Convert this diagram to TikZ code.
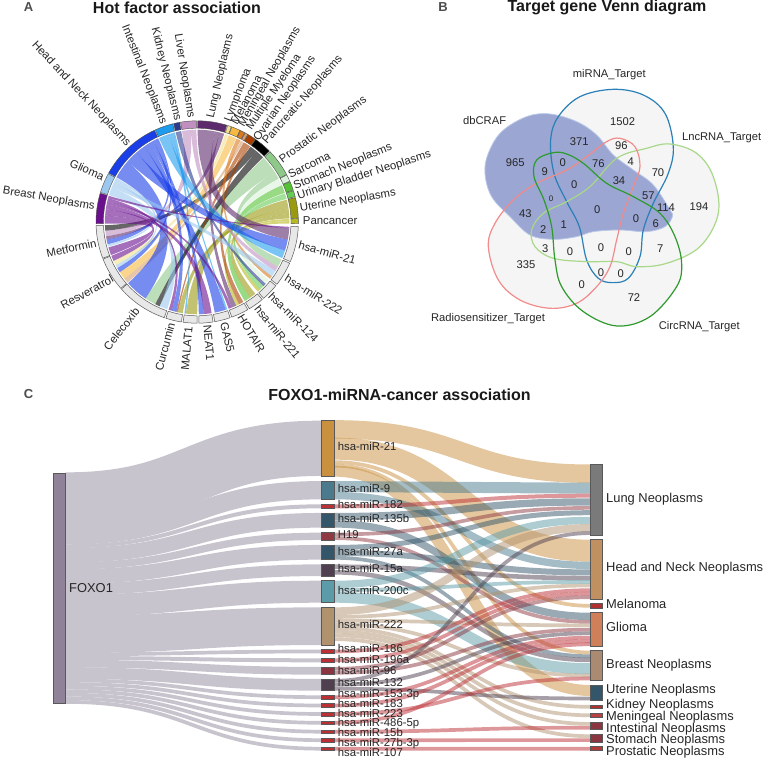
\documentclass[tikz,border=0pt]{standalone}
\usepackage{fontspec}
\setmainfont{Liberation Sans}
\usetikzlibrary{calc}
\usetikzlibrary{backgrounds}

\definecolor{brst}{HTML}{6A0F8E}
\definecolor{gli}{HTML}{9CC8EE}
\definecolor{hnn}{HTML}{1A3FE8}
\definecolor{inte}{HTML}{1F9BEE}
\definecolor{kid}{HTML}{2B3A8F}
\definecolor{liv}{HTML}{C08FC0}
\definecolor{lun}{HTML}{5E2A6E}
\definecolor{lym}{HTML}{F0E090}
\definecolor{mel}{HTML}{F5B942}
\definecolor{men}{HTML}{D97A1E}
\definecolor{mye}{HTML}{D9A070}
\definecolor{ova}{HTML}{A83F00}
\definecolor{pan}{HTML}{000000}
\definecolor{pro}{HTML}{8FC98A}
\definecolor{sar}{HTML}{D9F2D9}
\definecolor{sto}{HTML}{55C233}
\definecolor{uri}{HTML}{66CC55}
\definecolor{ute}{HTML}{9A9A10}
\definecolor{pcc}{HTML}{B8B820}
\definecolor{col_miR_21}{HTML}{C99040}
\definecolor{col_miR_9}{HTML}{4A7A8C}
\definecolor{col_miR_182}{HTML}{BC2F35}
\definecolor{col_miR_135b}{HTML}{34566A}
\definecolor{col_H19}{HTML}{8F3A42}
\definecolor{col_miR_27a}{HTML}{34566A}
\definecolor{col_miR_15a}{HTML}{50404F}
\definecolor{col_miR_200c}{HTML}{5B9CA8}
\definecolor{col_miR_222}{HTML}{B0926F}
\definecolor{col_miR_186}{HTML}{BC2F35}
\definecolor{col_miR_196a}{HTML}{BC2F35}
\definecolor{col_miR_96}{HTML}{8A3540}
\definecolor{col_miR_132}{HTML}{50404F}
\definecolor{col_miR_153}{HTML}{BC2F35}
\definecolor{col_miR_183}{HTML}{BC2F35}
\definecolor{col_miR_223}{HTML}{BC2F35}
\definecolor{col_miR_486}{HTML}{BC2F35}
\definecolor{col_miR_15b}{HTML}{BC2F35}
\definecolor{col_miR_27b}{HTML}{BC2F35}
\definecolor{col_miR_107}{HTML}{BC2F35}
\definecolor{vennblob}{RGB}{155,166,210}
\definecolor{vennblobedge}{RGB}{184,200,232}
\definecolor{vennblue}{RGB}{42,127,184}
\definecolor{vennlime}{RGB}{168,216,136}
\definecolor{vennrose}{RGB}{240,140,140}
\definecolor{venngreen}{RGB}{46,154,46}
\definecolor{foxolink}{RGB}{200,196,206}
\definecolor{foxonode}{RGB}{143,130,153}

\tikzset{
  paneltag/.style={font=\fontsize{13}{13}\selectfont\bfseries, text=black!70, inner sep=0},
  paneltitle/.style={font=\fontsize{16}{16}\selectfont\bfseries, text=black!90, inner sep=0},
  ringlab/.style={font=\fontsize{11.4}{11.4}\selectfont, text=black!85, inner sep=0},
  vennlab/.style={font=\fontsize{11.2}{11.2}\selectfont, text=black!85, inner sep=0},
  vennline/.style={line width=1.2pt},
  midnode/.style={draw=black!65, line width=.5pt, minimum width=12.3, inner sep=0, outer sep=0},
  dis/.style={font=\fontsize{12.9}{12.9}\selectfont, text=black!85, inner sep=0, anchor=mid west, yshift=-1.5pt},
  mirlab/.style={font=\fontsize{11.35}{11.35}\selectfont, text=black!85, inner sep=0, anchor=mid west, yshift=-1.2pt},
  link/.style={line cap=butt, draw opacity=.5},
}

\begin{document}
\begin{tikzpicture}[x=1pt, y=-1pt]
  \useasboundingbox (0,0) rectangle (764,759);

  \node[paneltag] (tag_A) at (28.5,7.5) {A};
  \node[paneltitle] (title_A) at (177,7.5) {Hot factor association};
  \node[paneltag] (tag_B) at (443,7.5) {B};
  \node[paneltitle] (title_B) at (607,7.5) {Target gene Venn diagram};
  \node[paneltag] (tag_C) at (28.5,394.5) {C};
  \node[paneltitle] (title_C) at (399.5,394.5) {FOXO1-miRNA-cancer association};

  % chord diagram
  \begin{scope}[shift={(197.2,222)}]
    \foreach \a/\b/\c/\d/\col in {
      50/54.7/182/185.5/pan, 94/99.5/185.5/189/liv, 73/76/189/191/lun, 116/118.5/191/194/hnn,
      151.5/153/194/195.5/gli, 176/181/196/201/brst, 172/176/201.5/205/brst, 70.3/72.5/205/208/lym,
      153/155/208/210/gli, 115/116/210/213/hnn, 65/70/213/218/mel, 60/61.7/218/221/mye,
      139/151/221.5/236/hnn, 33/44/236/243/pro, 44.5/50/243/246/pan, 158/163/246/251/gli,
      165/167/252/254/brst, 121/125/254/257/hnn, 57/59.7/257/258/ova, 5/8/258/261/ute,
      104/106/262/263/inte, 8/14/263/270/ute, 118.5/121/271/274/hnn, 169/172/274/279/brst,
      125/131/281/288/hnn, 106/108/288/289/inte, 167/169/290/292/brst, 76/79/292/295/lun,
      -1/0.5/295/297/pcc, 55/57/297/300/ova, 18.4/23.5/301/305/sto, 2.2/5/305/309/ute,
      0.5/1.9/311/313/pcc, 14.5/18/313/316/uri, 100/103.5/316/318/kid, 23.8/27.7/318/321/sar,
      62/64.7/322/324/men, 155/158/324/328/gli, 90.5/94/328/331/liv, 28/33/331/336/pro,
      108/114.5/337/342/inte, 131/139/342/349/hnn, 79/89.7/349/356/lun, 163.5/165/356/357/brst}
    {
      \fill[\col, fill opacity=.6] (\a:92.3pt) arc[start angle=\a, end angle=\b, radius=92.3pt]
        .. controls (\b:30pt) and (\c:30pt) .. (\c:92.3pt)
        arc[start angle=\c, end angle=\d, radius=92.3pt]
        .. controls (\d:30pt) and (\a:30pt) .. cycle;
    }
    \foreach \a/\b/\col in {
      163.5/181/brst, 151.5/163/gli, 115/151/hnn, 104/114.5/inte, 100/103.5/kid, 90.5/99.5/liv,
      73/89.7/lun, 70.3/72.5/lym, 65/70/mel, 62/64.7/men, 60/61.7/mye, 55/59.7/ova, 44.5/54.7/pan,
      28/44/pro, 23.8/27.7/sar, 18.4/23.5/sto, 14.5/18/uri, 2.2/14/ute, -1/1.9/pcc}
    {
      \draw[black!70, line width=.4pt, fill=\col] (\a:93.8pt) arc[start angle=\a, end angle=\b, radius=93.8pt]
        -- (\b:101.2pt) arc[start angle=\b, end angle=\a, radius=101.2pt] -- cycle;
    }
    \foreach \a/\b in {
      182/201, 201.5/221, 221.5/251, 252/261, 262/270, 271/279, 280/289, 290/300, 301/310,
      311/321, 322/336, 337/357.4}
    {
      \draw[black!65, line width=.5pt, fill=black!9] (\a:93.8pt) arc[start angle=\a, end angle=\b, radius=93.8pt]
        -- (\b:101.2pt) arc[start angle=\b, end angle=\a, radius=101.2pt] -- cycle;
    }
  \end{scope}

  \foreach \lab/\px/\py/\rot in {
    Lung Neoplasms/211/118.3/77, Lymphoma/228.3/121.7/69, Melanoma/235/124/62,
    Meningeal Neoplasms/241.7/126/60, Multiple Myeloma/249.3/129.3/56,
    Ovarian Neoplasms/256.7/140/55.5, Pancreatic Neoplasms/265/143.3/48.5,
    Prostatic Neoplasms/281/161/36, Sarcoma/289.3/176.7/27, Stomach Neoplasms/294.3/187.3/22.5,
    Urinary Bladder Neoplasms/297.7/196.7/17.5, Uterine Neoplasms/300/209.3/9.7,
    Pancancer/302.7/221.7/0, hsa-miR-21/298.3/246/-15.7, hsa-miR-222/285/278.3/-32,
    hsa-miR-124/269.3/295/-45, hsa-miR-221/255.7/307.3/-51, HOTAIR/239.3/316/-59,
    GAS5/222.7/322.7/-77, NEAT1/206/325/-85}
    \node[ringlab, anchor=mid west, rotate=\rot] at (\px,\py) {\lab};
  \foreach \lab/\px/\py/\rot in {
    Head and Neck Neoplasms/128.3/145/-47, Intestinal Neoplasms/163.3/124/-68.5,
    Kidney Neoplasms/177.3/120.7/-76, Liver Neoplasms/190.7/118.3/-81, Glioma/103.3/178.3/-23,
    Breast Neoplasms/94.7/207.3/-10, Metformin/96.7/244.3/12, Resveratrol/113.3/279.3/29,
    Celecoxib/138.3/310/51.6, Curcumin/172.7/323.3/75, MALAT1/190/326.7/85}
    \node[ringlab, anchor=mid east, rotate=\rot] at (\px,\py) {\lab};

  % venn
  \begin{scope}[xshift=420pt, x=.3333pt, y=-.3333pt]
    \def\dbCRAF{(195,520) (205,460) (245,395) (320,350) (390,342) (470,365) (530,405) (580,465) (640,510) (700,555) (750,630) (757,650) (735,680) (680,695) (600,690) (520,695) (470,710) (400,718) (330,705) (270,650) (215,590)}
    \def\miRNA{(580,268) (480,290) (415,350) (392,420) (402,520) (440,605) (478,680) (500,780) (535,835) (578,848) (625,835) (660,770) (670,690) (700,610) (745,520) (760,440) (735,340) (670,285)}
    \def\LncRNA{(750,432) (680,445) (590,475) (510,560) (440,605) (370,640) (335,690) (345,740) (400,775) (500,785) (590,785) (650,800) (740,790) (840,740) (895,640) (880,530) (830,460)}
    \def\Radio{(205,740) (225,670) (280,600) (350,550) (440,510) (500,470) (560,425) (600,415) (645,440) (660,500) (640,560) (610,640) (590,720) (570,800) (530,860) (470,910) (390,925) (300,900) (235,840)}
    \def\CircRNA{(400,458) (350,480) (342,530) (372,600) (395,680) (405,780) (425,860) (490,935) (590,978) (690,950) (770,860) (785,790) (765,710) (720,640) (640,590) (560,550) (490,490) (440,462)}
    \foreach \shp in {\miRNA,\LncRNA,\Radio,\CircRNA}
      \fill[black!4] plot[smooth cycle, tension=.6] coordinates {\shp};
    \draw[fill=vennblob, draw=vennblobedge, line width=.8pt]
      plot[smooth cycle, tension=.6] coordinates {\dbCRAF};
    \draw[vennline, vennblue] plot[smooth cycle, tension=.6] coordinates {\miRNA};
    \draw[vennline, vennlime] plot[smooth cycle, tension=.6] coordinates {\LncRNA};
    \draw[vennline, vennrose] plot[smooth cycle, tension=.6] coordinates {\Radio};
    \draw[vennline, venngreen] plot[smooth cycle, tension=.6] coordinates {\CircRNA};
    \foreach \num/\px/\py in {
      1502/608/366, 371/478/426, 96/604/438, 4/632/485, 70/714/517, 965/286/489, 9/374/515,
      0/428/489, 76/535/490, 34/597/543, 0/463/553, 57/685/586, 194/837/620, 114/738/623,
      43/316/640, 0/532/628, 0/648/657, 6/707/672, 1/431/673, 2/370/690, 3/376/746, 0/450/755,
      0/543/743, 0/626/754, 7/721/745, 335/318/794, 0/543/817, 0/602/821, 0/485/855, 72/642/892}
      \node[vennlab] at (\px,\py) {\num};
    \node[vennlab, font=\fontsize{8}{8}\selectfont] (small_zero) at (393,597) {0};
    \node[vennlab] (miRNA_lab) at (568,224) {miRNA\_Target};
    \node[vennlab] (dbCRAF_lab) at (194,361) {dbCRAF};
    \node[vennlab] (LncRNA_lab) at (905,414) {LncRNA\_Target};
    \node[vennlab] (Radio_lab) at (204,955) {Radiosensitizer\_Target};
    \node[vennlab] (CircRNA_lab) at (838,980) {CircRNA\_Target};
  \end{scope}

  % sankey nodes
  \node[midnode, minimum height=230.4, fill=foxonode] (FOXO1) at (59.35,588.5) {};
  \node[dis] (FOXO1_lab) at (69,588) {FOXO1};
  \foreach \nm/\yc/\h/\laby/\lab in {
    miR_21/448.3/55.3/447/hsa-miR-21, miR_9/490.2/18.3/489/hsa-miR-9, miR_182/506.3/4/505/hsa-miR-182,
    miR_135b/520.3/14.7/519/hsa-miR-135b, H19/536.3/7.3/535/H19, miR_27a/552.3/14.7/551.3/hsa-miR-27a,
    miR_15a/570.2/11.7/569/hsa-miR-15a, miR_200c/591.7/22/590.3/hsa-miR-200c,
    miR_222/626.2/37.7/625/hsa-miR-222, miR_186/651.5/3.7/649/hsa-miR-186,
    miR_196a/660.3/4/660/hsa-miR-196a, miR_96/670.8/7.7/670.3/hsa-miR-96,
    miR_132/684.8/11.7/682.3/hsa-miR-132, miR_153/697.2/3.7/693.3/hsa-miR-153-3p,
    miR_183/705.5/3.7/703.3/hsa-miR-183, miR_223/714/3.7/713.3/hsa-miR-223,
    miR_486/722.8/3.7/722.7/hsa-miR-486-5p, miR_15b/731.7/3.7/732.7/hsa-miR-15b,
    miR_27b/740.2/3.7/742.7/hsa-miR-27b-3p, miR_107/748.7/3.7/752.7/hsa-miR-107}
  {
    \node[midnode, minimum height=\h, fill=col_\nm] (\nm) at (327.85,\yc) {};
    \node[mirlab] at (337.7,\laby) {\lab};
  }
  \foreach \nm/\yc/\h/\laby/\col/\lab in {
    Lung/499.85/70.3/498/7A7A7A/Lung Neoplasms, HeadNeck/569.35/59.3/567.7/C09060/Head and Neck Neoplasms,
    Melanoma/605.85/4.3/604/B03030/Melanoma, Glioma/629.35/33.3/627.7/D08058/Glioma,
    Breast/665.5/29.7/664/AB8A72/Breast Neoplasms, Uterine/692.65/15.3/689.7/34566A/Uterine Neoplasms,
    Kidney/706.85/3.7/704/B03030/Kidney Neoplasms, Meningeal/715.3/4/716/B84040/Meningeal Neoplasms,
    Intestinal/725.85/7.7/728.3/8A3540/Intestinal Neoplasms, Stomach/738.15/7.7/739.3/8A3540/Stomach Neoplasms,
    Prostatic/748.7/4/751/B03A3A/Prostatic Neoplasms}
  {
    \definecolor{nodecol}{HTML}{\col}
    \node[midnode, minimum height=\h, fill=nodecol] (\nm) at (596.35,\yc) {};
    \node[dis] at (606,\laby) {\lab};
  }

  \begin{pgfonlayer}{background}
    \foreach \nm/\so/\w in {
      miR_21/26.7/55.3, miR_9/62.2/18.3, miR_182/73/4, miR_135b/82/14.7, H19/92.6/7.3,
      miR_27a/103.2/14.7, miR_15a/115.9/11.7, miR_200c/132.2/22, miR_222/161/37.7,
      miR_186/181/3.7, miR_196a/184.7/4, miR_96/190.3/7.7, miR_132/199.7/11.7, miR_153/207.1/3.7,
      miR_183/210.7/3.7, miR_223/214.3/3.7, miR_486/217.8/3.7, miR_15b/221.4/3.7, miR_27b/225/3.7,
      miR_107/228.6/3.7}
      \draw[line width=\w, foxolink]
        ($(FOXO1.north east)+(0,\so)$) .. controls +(128,0) and +(-128,0) .. (\nm.west);
    \foreach \src/\so/\tgt/\to/\w in {
      miR_21/8.7/Lung/9/18.4, miR_21/28/HeadNeck/11/22, miR_21/41.5/Melanoma/2.15/3.7,
      miR_21/45/Breast/1.9/3.7, miR_21/50.5/Uterine/5.5/11,
      miR_9/5.5/Lung/23.5/11, miR_9/14.6/HeadNeck/25.7/7.3,
      miR_182/2/Lung/31/4,
      miR_135b/3.65/Lung/37.2/7.3, miR_135b/11/Glioma/3.7/7.3,
      H19/1.8/Lung/43.2/3.65, H19/5.5/Glioma/9.2/3.65,
      miR_27a/2.5/Lung/48/5, miR_27a/8/HeadNeck/32.7/6, miR_27a/12.85/Breast/5.6/3.7,
      miR_15a/2.4/HeadNeck/38.4/4.6, miR_15a/8/Breast/9.3/4.5,
      miR_200c/3.7/Lung/55.7/7.3, miR_200c/9.2/HeadNeck/42.2/3.7, miR_200c/16.5/Breast/18/11,
      miR_222/3.85/Lung/63.2/7.7, miR_222/9.6/HeadNeck/45.8/3.7, miR_222/13.3/Glioma/12.7/3.7,
      miR_222/17/Breast/24.9/3.7, miR_222/20.7/Kidney/1.85/3.7, miR_222/24.4/Meningeal/2/3.7,
      miR_222/28/Intestinal/1.9/3.7, miR_222/31.8/Stomach/1.9/3.7,
      miR_186/1.85/HeadNeck/50.5/3.7, miR_196a/2/HeadNeck/54/3.7,
      miR_96/1.9/HeadNeck/57.5/3.7, miR_96/5.8/Glioma/16.9/3.7,
      miR_132/1.9/Lung/68.4/3.7, miR_132/5.8/Glioma/20.6/3.7, miR_132/9.8/Uterine/13.5/3.7,
      miR_153/1.85/Glioma/25/3.7, miR_183/1.85/Glioma/28.5/3.7, miR_486/1.85/Glioma/31.6/3.7,
      miR_223/1.85/Breast/27.9/3.7, miR_15b/1.85/Intestinal/5.7/3.7, miR_27b/1.85/Stomach/5.8/3.7,
      miR_107/1.85/Prostatic/2/3.7}
      \draw[link, line width=\w, color=col_\src]
        ($(\src.north east)+(0,\so)$) .. controls +(128,0) and +(-128,0) .. ($(\tgt.north west)+(0,\to)$);
  \end{pgfonlayer}
\end{tikzpicture}
\end{document}
